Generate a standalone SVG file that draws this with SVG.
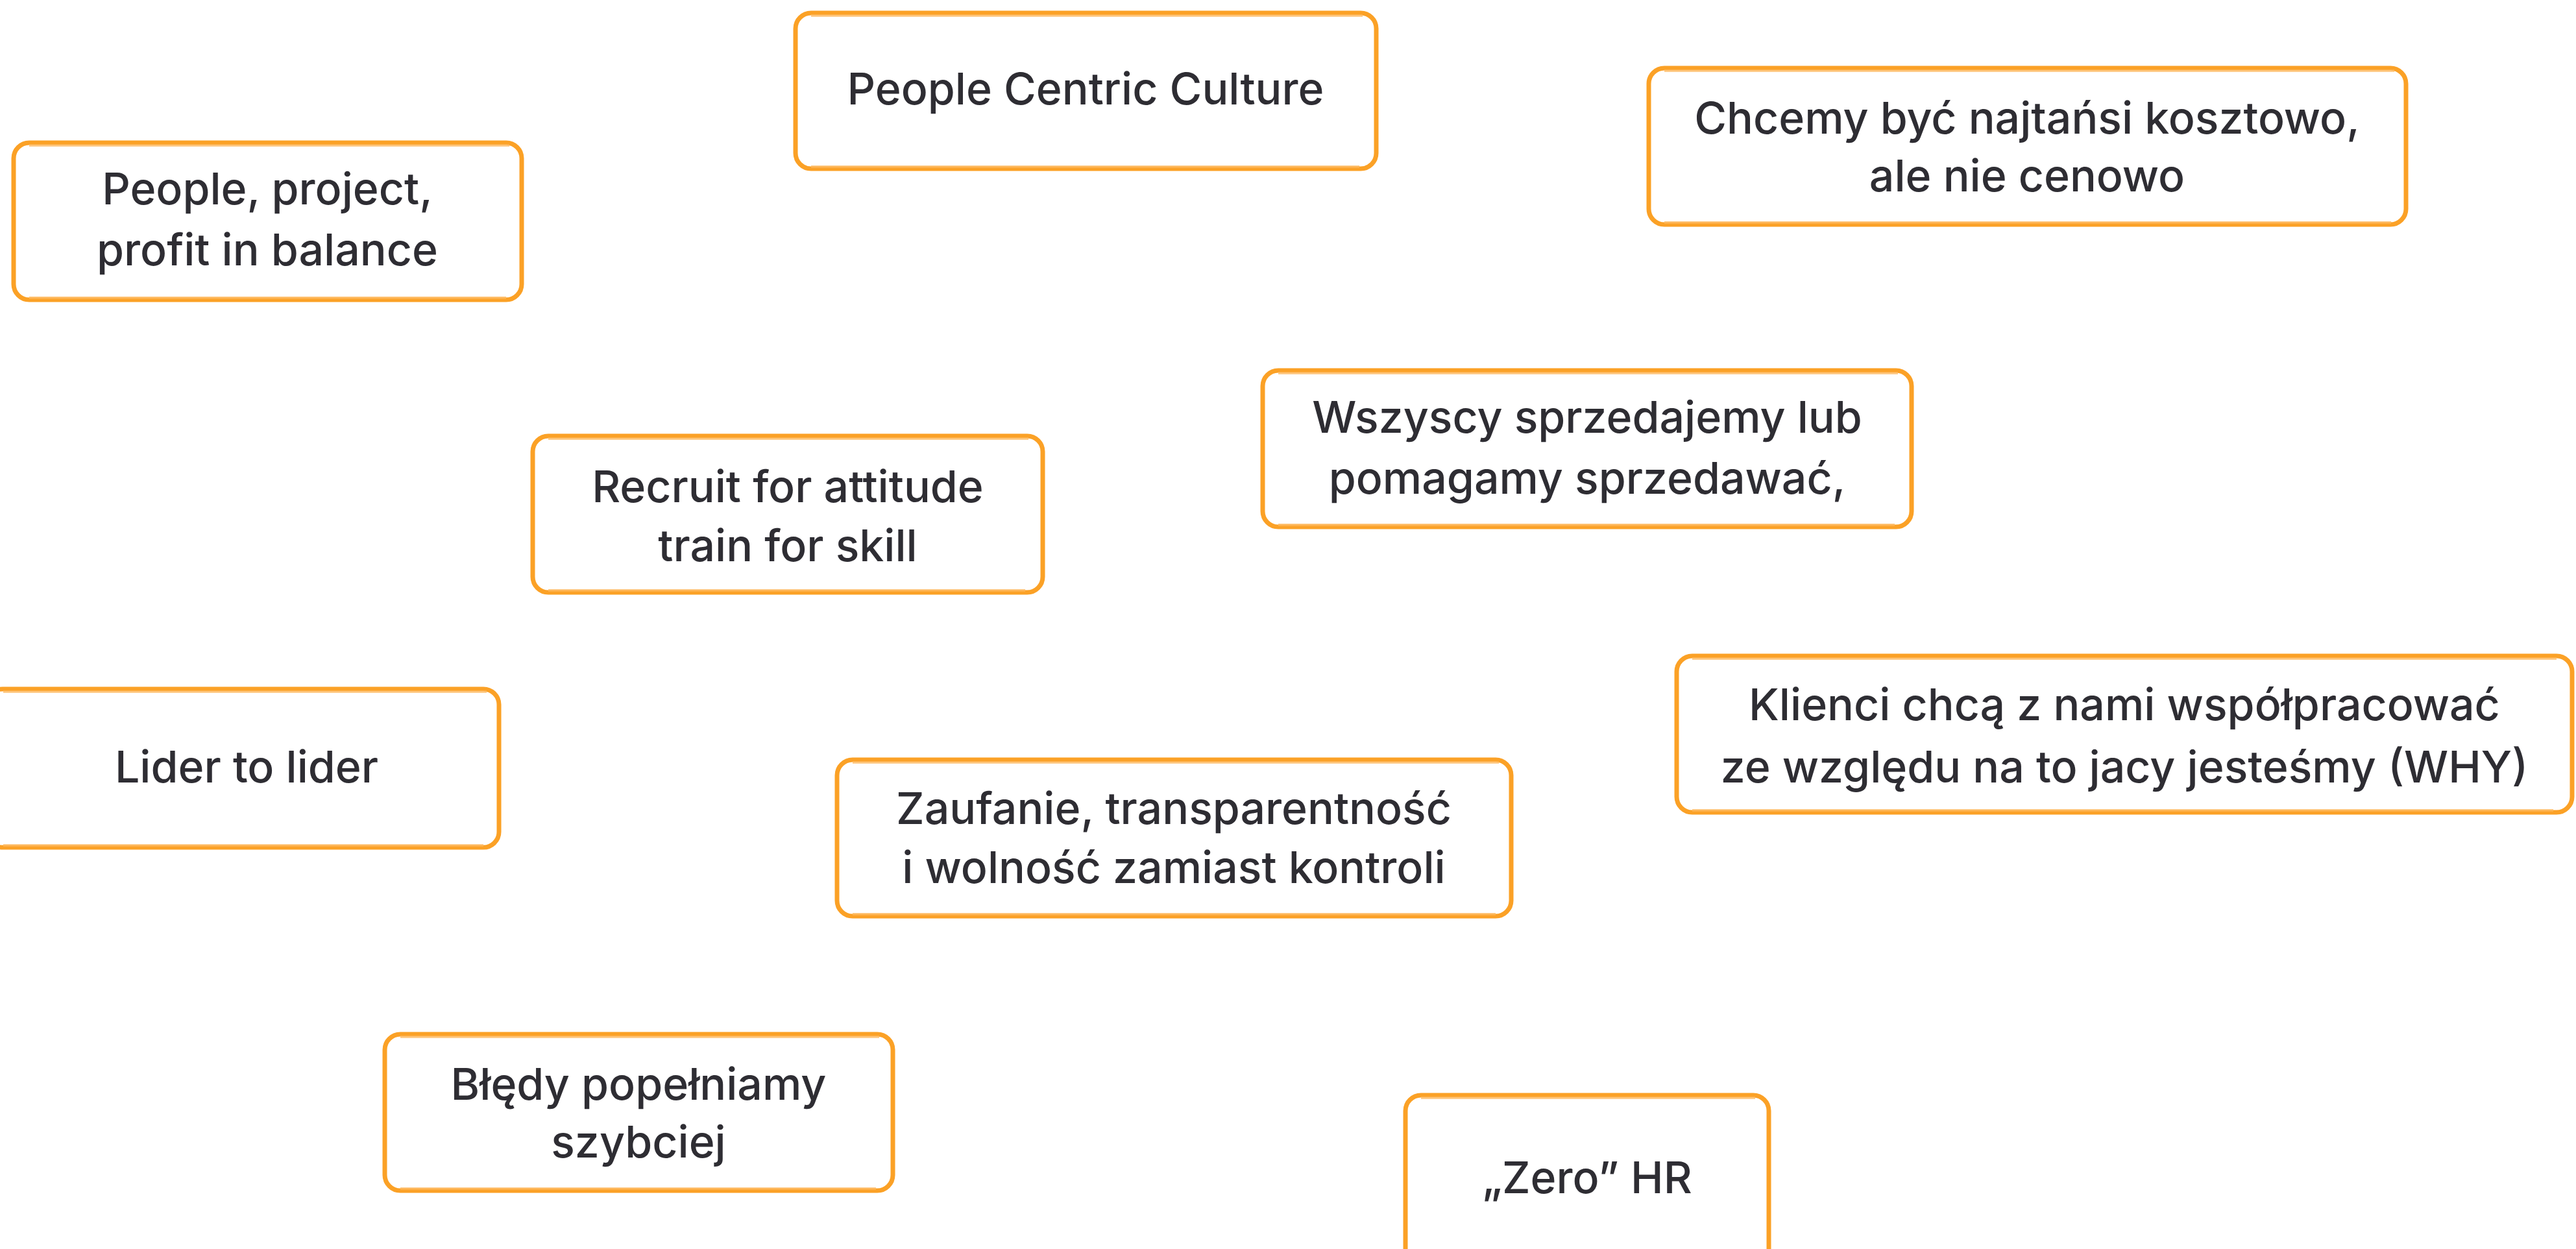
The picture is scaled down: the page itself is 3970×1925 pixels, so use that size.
<svg xmlns="http://www.w3.org/2000/svg" width="3970" height="1925" viewBox="0 0 3970 1925">
<style>
.box{fill:#fff;stroke:#FBA126;stroke-width:7}
.brush{fill:none;stroke:#FDB65A;stroke-width:4;opacity:.7}
.t{font-family:Inter,"Open Sans","Liberation Sans",sans-serif;font-size:68px;font-weight:500;fill:#2E2D33;text-anchor:middle}
</style>
<rect width="3970" height="1925" fill="#fff"/>
<g id="connectors"/>
<g id="n1"><rect class="box" x="1226" y="20" width="895" height="240" rx="24"/><path class="brush" d="M1250 24 H2100 M1250 257 H2095"/><text class="t" x="1673" y="161">People Centric Culture</text></g>
<g id="n2"><rect class="box" x="21" y="220" width="783" height="242" rx="24"/><path class="brush" d="M45 224 H785 M45 459 H780"/><text class="t" x="412" y="315">People, project,</text><text class="t" x="412" y="409">profit in balance</text></g>
<g id="n3"><rect class="box" x="2541" y="105" width="1167" height="241" rx="24"/><path class="brush" d="M2565 109 H3690 M2565 343 H3685"/><text class="t" x="3124" y="206">Chcemy być najtańsi kosztowo,</text><text class="t" x="3124" y="295">ale nie cenowo</text></g>
<g id="n4"><rect class="box" x="1946" y="571" width="1000" height="241" rx="24"/><path class="brush" d="M1970 575 H2925 M1970 809 H2920"/><text class="t" x="2446" y="667">Wszyscy sprzedajemy lub</text><text class="t" x="2446" y="761">pomagamy sprzedawać,</text></g>
<g id="n5"><rect class="box" x="821" y="672" width="786" height="241" rx="24"/><path class="brush" d="M845 676 H1585 M845 910 H1580"/><text class="t" x="1214" y="774">Recruit for attitude</text><text class="t" x="1214" y="865">train for skill</text></g>
<g id="n6"><rect class="box" x="-20" y="1062" width="789" height="244" rx="24"/><path class="brush" d="M5 1066 H750 M5 1303 H745"/><text class="t" x="380" y="1206">Lider to lider</text></g>
<g id="n7"><rect class="box" x="2584" y="1011" width="1380" height="241" rx="24"/><path class="brush" d="M2608 1015 H3940 M2608 1249 H3935"/><text class="t" x="3274" y="1110">Klienci chcą z nami współpracować</text><text class="t" x="3274" y="1206">ze względu na to jacy jesteśmy (WHY)</text></g>
<g id="n8"><rect class="box" x="1290" y="1171" width="1039" height="241" rx="24"/><path class="brush" d="M1314 1175 H2310 M1314 1409 H2305"/><text class="t" x="1809" y="1270">Zaufanie, transparentność</text><text class="t" x="1809" y="1361">i wolność zamiast kontroli</text></g>
<g id="n9"><rect class="box" x="593" y="1594" width="783" height="241" rx="24"/><path class="brush" d="M617 1598 H1355 M617 1832 H1350"/><text class="t" x="984" y="1695">Błędy popełniamy</text><text class="t" x="984" y="1784">szybciej</text></g>
<g id="n10"><rect class="box" x="2166" y="1688" width="560" height="270" rx="24"/><path class="brush" d="M2190 1692 H2705"/><text class="t" x="2446" y="1839">„Zero” HR</text></g>
</svg>
